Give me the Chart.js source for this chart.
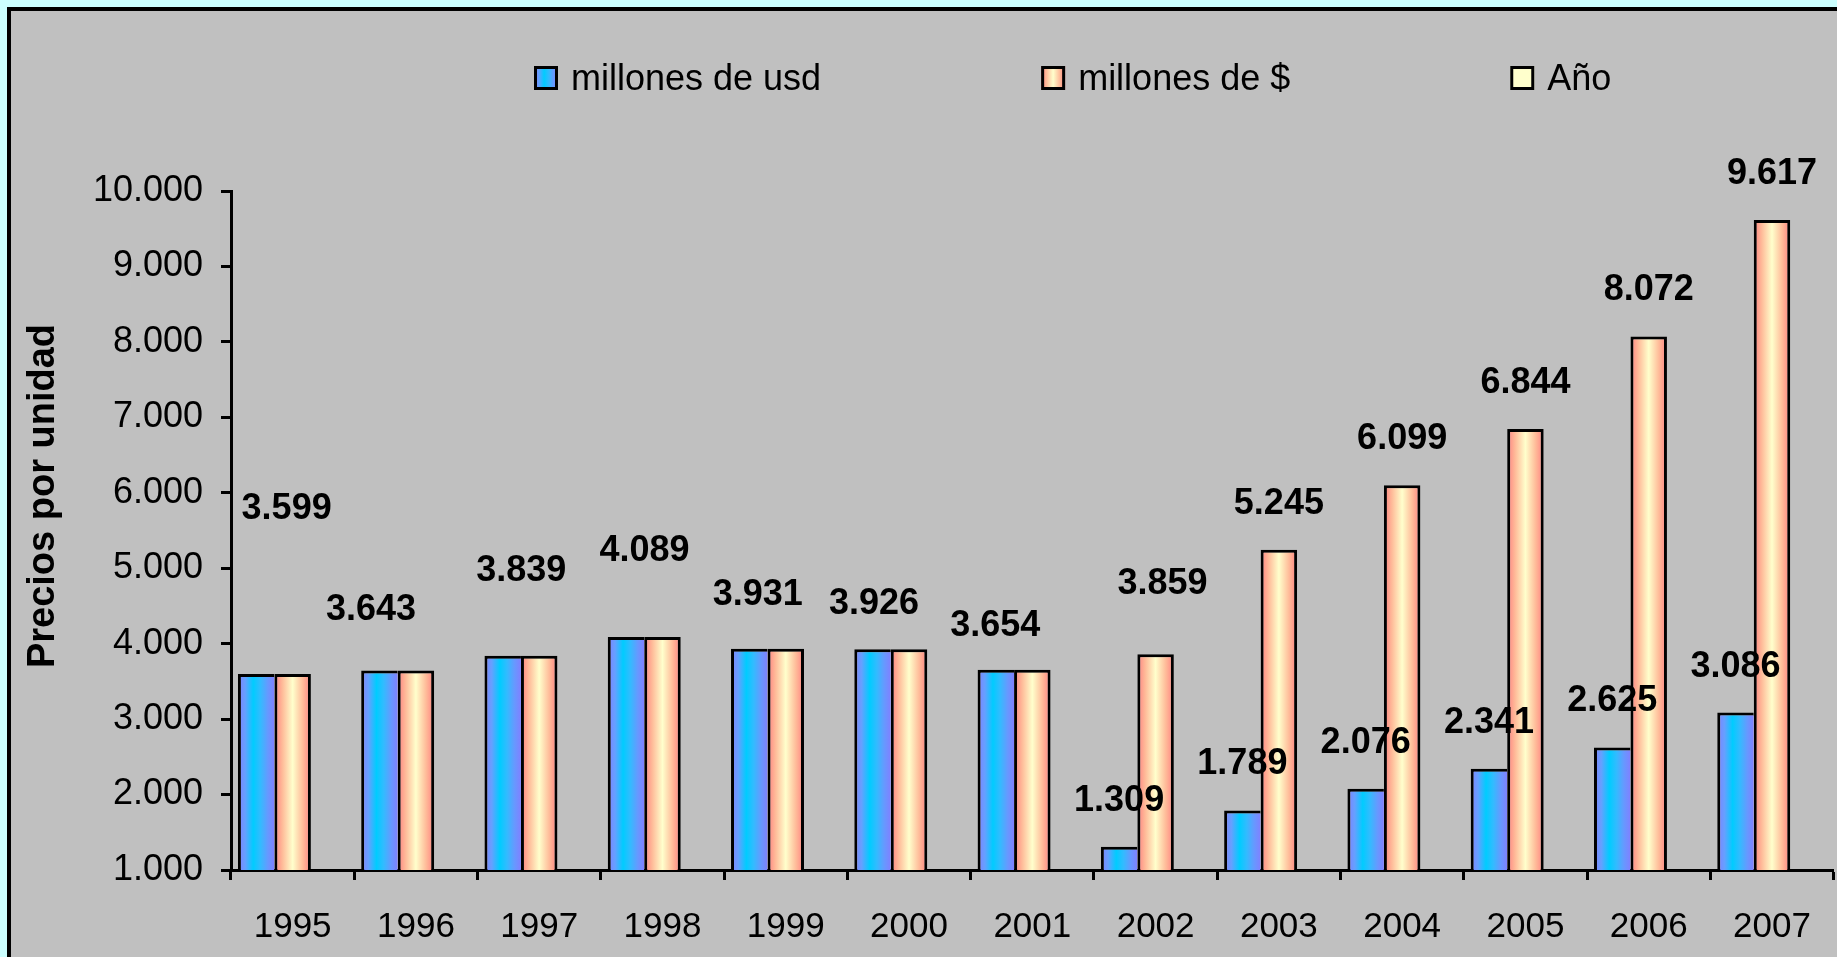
<!DOCTYPE html>
<html lang="es">
<head>
<meta charset="UTF-8">
<title>Precios por unidad</title>
<script src="https://cdn.jsdelivr.net/npm/chart.js@4.4.1/dist/chart.umd.min.js"></script>
<style>
  html, body { margin: 0; padding: 0; }
  body { width: 1837px; height: 957px; overflow: hidden; background: #ccffff; position: relative; }
  /* grey chart panel, cut off at the right and bottom like the original */
  #panel { position: absolute; left: 7px; top: 7px; width: 1900px; height: 1000px; background: #c0c0c0; border: 4px solid #000; }
  #chart { position: absolute; left: 0; top: 0; }
</style>
</head>
<body>
<div id="panel"></div>
<canvas id="chart" width="1837" height="957"></canvas>
<script>
var years = ['1995', '1996', '1997', '1998', '1999', '2000', '2001', '2002', '2003', '2004', '2005', '2006', '2007'];
var usd = [3599, 3643, 3839, 4089, 3931, 3926, 3654, 1309, 1789, 2076, 2341, 2625, 3086];
var pesos = [3599, 3643, 3839, 4089, 3931, 3926, 3654, 3859, 5245, 6099, 6844, 8072, 9617];
var anio = [null, null, null, null, null, null, null, null, null, null, null, null, null];
var seriesNames = ['millones de usd', 'millones de $', 'Año'];
var yTickValues = [1000, 2000, 3000, 4000, 5000, 6000, 7000, 8000, 9000, 10000];
var yTickLabels = ['1.000', '2.000', '3.000', '4.000', '5.000', '6.000', '7.000', '8.000', '9.000', '10.000'];

// where the value labels sit: [shift x, lift above bar top] in px, null = no label
var usdLabelNudge = [null, null, null, null, null, null, null, [0, 46], [0, 46], [0, 46], [0, 46], [0, 46], [0, 46]];
var pesosLabelNudge = [[-6, 165], [-45, 61], [-18, 85], [-18, 86], [-28, 54], [-35, 45], [-37, 44], [7, 70], [0, 46], [0, 46], [0, 46], [0, 46], [0, 46]];

var FONT = '"Liberation Sans", Arial, sans-serif';

// stripes of the excel style gradient, one list per series
var barStops = [
  [[0, '#8080ff'], [0.2, '#66a0ff'], [0.42, '#00ccff'], [0.62, '#33bbff'], [0.82, '#6699ff'], [1, '#8080ff']],
  [[0, '#ff8080'], [0.22, '#ffbb99'], [0.5, '#ffffcc'], [0.78, '#ffbb99'], [1, '#ff8080']],
  [[0, '#ffffcc'], [1, '#ffffcc']]
];

function stripeFill(ctx, i, left, width) {
  var g = ctx.createLinearGradient(left, 0, left + width, 0);
  barStops[i].forEach(function (s) { g.addColorStop(s[0], s[1]); });
  return g;
}

function fmt(v) {
  return String(v).replace(/\B(?=(\d{3})+(?!\d))/g, '.');
}

// paint every bar with its own horizontal gradient
var barGradients = {
  id: 'barGradients',
  beforeDatasetsDraw: function (chart) {
    chart.data.datasets.forEach(function (ds, i) {
      chart.getDatasetMeta(i).data.forEach(function (bar) {
        if (bar.x == null || isNaN(bar.width)) return;
        bar.options.backgroundColor = stripeFill(chart.ctx, i, bar.x - bar.width / 2, bar.width);
      });
    });
  }
};

var barLabels = {
  id: 'barLabels',
  afterDatasetsDraw: function (chart) {
    var ctx = chart.ctx;
    ctx.save();
    ctx.font = 'bold 36px ' + FONT;
    ctx.textAlign = 'center';
    ctx.textBaseline = 'middle';
    ctx.fillStyle = '#000';
    [[0, usdLabelNudge], [1, pesosLabelNudge]].forEach(function (p) {
      var values = chart.data.datasets[p[0]].data;
      chart.getDatasetMeta(p[0]).data.forEach(function (bar, i) {
        var n = p[1][i];
        if (!n) return;
        ctx.fillText(fmt(values[i]), bar.x + n[0], bar.y - n[1]);
      });
    });
    ctx.restore();
  }
};

var sheetLegend = {
  id: 'sheetLegend',
  afterDraw: function (chart, args, opts) {
    var ctx = chart.ctx;
    var x = opts.left;
    ctx.save();
    ctx.font = '36px ' + FONT;
    ctx.textBaseline = 'middle';
    chart.data.datasets.forEach(function (ds, i) {
      ctx.fillStyle = stripeFill(ctx, i, x, opts.box);
      ctx.fillRect(x, opts.top, opts.box, opts.box);
      ctx.lineWidth = 3;
      ctx.strokeStyle = '#000';
      ctx.strokeRect(x + 1.5, opts.top + 1.5, opts.box - 3, opts.box - 3);
      ctx.fillStyle = '#000';
      ctx.fillText(ds.label, x + opts.box + opts.textGap, opts.top + opts.box / 2 + 2);
      x += opts.box + opts.textGap + ctx.measureText(ds.label).width + opts.itemGap;
    });
    ctx.restore();
  }
};

var yTitle = {
  id: 'yTitle',
  afterDraw: function (chart, args, opts) {
    var ctx = chart.ctx;
    ctx.save();
    ctx.translate(opts.x, opts.y);
    ctx.rotate(-Math.PI / 2);
    ctx.font = 'bold 38px ' + FONT;
    ctx.textAlign = 'center';
    ctx.textBaseline = 'middle';
    ctx.fillStyle = '#000';
    ctx.fillText(opts.text, 0, 0);
    ctx.restore();
  }
};

function plainFill() { return '#c0c0c0'; }

new Chart(document.getElementById('chart'), {
  type: 'bar',
  data: {
    labels: years,
    datasets: [
      { label: seriesNames[0], data: usd, backgroundColor: plainFill, borderColor: '#000',
        borderWidth: { top: 3, left: 3, right: 0, bottom: 0 } },
      { label: seriesNames[1], data: pesos, backgroundColor: plainFill, borderColor: '#000',
        borderWidth: { top: 3, left: 3, right: 3, bottom: 0 } },
      { label: seriesNames[2], data: anio, backgroundColor: plainFill, borderColor: '#000', borderWidth: 3 }
    ]
  },
  options: {
    responsive: false,
    animation: false,
    events: [],
    layout: { padding: { left: 0, right: 2, top: 191, bottom: 0 } },
    datasets: { bar: { categoryPercentage: 0.888, barPercentage: 1, inflateAmount: 0, borderSkipped: 'start' } },
    scales: {
      x: {
        offset: true,
        grid: { offset: true, drawOnChartArea: false, drawTicks: true, tickLength: 10, tickWidth: 3, tickColor: '#000' },
        border: { display: true, color: '#000', width: 3 },
        ticks: { color: '#000', font: { family: FONT, size: 35 }, padding: 26, maxRotation: 0, autoSkip: false },
        afterFit: function (s) { s.height = 87; }
      },
      y: {
        min: 1000,
        max: 10000,
        afterBuildTicks: function (s) { s.ticks = yTickValues.map(function (v) { return { value: v }; }); },
        grid: { drawOnChartArea: false, drawTicks: true, tickLength: 10, tickWidth: 3, tickColor: '#000' },
        border: { display: true, color: '#000', width: 3 },
        ticks: {
          color: '#000',
          font: { family: FONT, size: 36 },
          padding: 18,
          callback: function (v) { return yTickLabels[yTickValues.indexOf(v)]; }
        },
        afterFit: function (s) { s.width = 231; }
      }
    },
    plugins: {
      legend: { display: false },
      tooltip: { enabled: false },
      sheetLegend: { left: 534, top: 66, box: 24, textGap: 13, itemGap: 220 },
      yTitle: { text: 'Precios por unidad', x: 44, y: 496 }
    }
  },
  plugins: [barGradients, barLabels, sheetLegend, yTitle]
});
</script>
</body>
</html>
